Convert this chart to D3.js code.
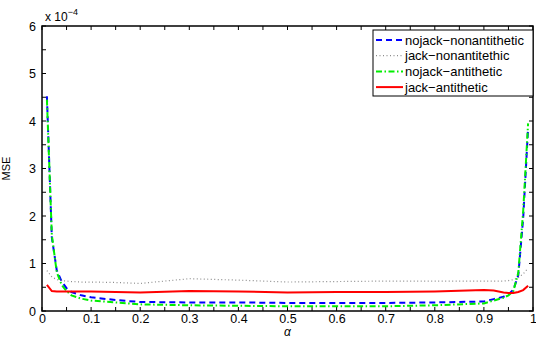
<!DOCTYPE html>
<html>
<head>
<meta charset="utf-8">
<script src="https://cdn.jsdelivr.net/npm/d3@7"></script>
<style>
  body { margin: 0; background: #fff; }
  svg { display: block; font-family: "Liberation Sans", Arial, sans-serif; }
  .tick text { font-size: 12.5px; fill: #000; }
</style>
</head>
<body>
<svg></svg>
<script>
// Data (MSE in units of 1e-4)
const alpha = [0.01, 0.02, 0.03, 0.04, 0.05, 0.06, 0.08, 0.1, 0.15, 0.2, 0.3, 0.4, 0.5,
  0.6, 0.7, 0.8, 0.9, 0.92, 0.94, 0.95, 0.96, 0.97, 0.98, 0.99];

const nojackNonanti = [4.52, 1.55, 0.86, 0.62, 0.48, 0.4, 0.33, 0.29, 0.23, 0.19, 0.18, 0.18, 0.17,
  0.17, 0.17, 0.18, 0.2, 0.25, 0.3, 0.35, 0.45, 0.75, 1.95, 3.85];
const jackNonanti = [0.85, 0.72, 0.66, 0.64, 0.63, 0.62, 0.61, 0.61, 0.6, 0.58, 0.68, 0.65, 0.61,
  0.62, 0.63, 0.63, 0.63, 0.63, 0.63, 0.64, 0.66, 0.7, 0.78, 0.9];
const nojackAnti = [4.45, 1.6, 0.82, 0.55, 0.42, 0.33, 0.26, 0.22, 0.18, 0.14, 0.12, 0.11, 0.1,
  0.1, 0.1, 0.12, 0.16, 0.22, 0.28, 0.33, 0.42, 0.8, 2.1, 3.95];
const jackAnti = [0.55, 0.42, 0.41, 0.41, 0.41, 0.41, 0.41, 0.41, 0.4, 0.39, 0.42, 0.41, 0.39,
  0.4, 0.4, 0.41, 0.44, 0.43, 0.39, 0.38, 0.38, 0.4, 0.44, 0.53];

const seriesNames = ["nojack\u2212nonantithetic", "jack\u2212nonantitethic", "nojack\u2212antithetic", "jack\u2212antithetic"];
const xTickLabels = ["0", "0.1", "0.2", "0.3", "0.4", "0.5", "0.6", "0.7", "0.8", "0.9", "1"];
const yTickLabels = ["0", "1", "2", "3", "4", "5", "6"];

const W = 536, H = 338;
const m = { left: 42, right: 3, top: 26, bottom: 27 };
const iw = W - m.left - m.right, ih = H - m.top - m.bottom;

const svg = d3.select("svg").attr("width", W).attr("height", H);
const g = svg.append("g").attr("transform", `translate(${m.left},${m.top})`);

const x = d3.scaleLinear().domain([0, 1]).range([0, iw]);
const y = d3.scaleLinear().domain([0, 6]).range([ih, 0]);

const styles = [
  { color: "#0000ff", dash: "6,4", width: 2 },
  { color: "#8c8c8c", dash: "1,2.5", width: 1.2 },
  { color: "#00ee00", dash: "6,2.5,1.5,2.5", width: 2 },
  { color: "#ff0000", dash: null, width: 2 }
];
const allSeries = [nojackNonanti, jackNonanti, nojackAnti, jackAnti];

// minor (unlabelled) ticks
const xMinor = d3.range(0, 1.0001, 0.05);
const yMinor = d3.range(0, 6.0001, 0.5);
const tl = 4;
xMinor.forEach(v => {
  g.append("line").attr("x1", x(v)).attr("x2", x(v)).attr("y1", ih).attr("y2", ih - tl).attr("stroke", "#000");
  g.append("line").attr("x1", x(v)).attr("x2", x(v)).attr("y1", 0).attr("y2", tl).attr("stroke", "#000");
});
yMinor.forEach(v => {
  g.append("line").attr("x1", 0).attr("x2", tl).attr("y1", y(v)).attr("y2", y(v)).attr("stroke", "#000");
  g.append("line").attr("x1", iw).attr("x2", iw - tl).attr("y1", y(v)).attr("y2", y(v)).attr("stroke", "#000");
});

// lines
const line = d3.line().x((d, i) => x(alpha[i])).y(d => y(d));
allSeries.forEach((s, k) => {
  g.append("path")
    .datum(s)
    .attr("fill", "none")
    .attr("stroke", styles[k].color)
    .attr("stroke-width", styles[k].width)
    .attr("stroke-dasharray", styles[k].dash)
    .attr("d", line);
});

// axes
const xAxis = g.append("g").attr("transform", `translate(0,${ih})`)
  .call(d3.axisBottom(x).tickValues(d3.range(0, 11).map(i => i / 10))
    .tickFormat((d, i) => xTickLabels[i]).tickSize(0).tickPadding(3));
const yAxis = g.append("g")
  .call(d3.axisLeft(y).tickValues(d3.range(0, 7))
    .tickFormat((d, i) => yTickLabels[i]).tickSize(0).tickPadding(6));
xAxis.select(".domain").remove();
yAxis.select(".domain").remove();
xAxis.selectAll("text").attr("dy", "0.72em");

g.append("rect").attr("width", iw).attr("height", ih)
  .attr("fill", "none").attr("stroke", "#000").attr("stroke-width", 1.5);

// exponent label
const ex = svg.append("text").attr("x", m.left + 3).attr("y", 21).attr("font-size", 12);
ex.append("tspan").text("x 10");
ex.append("tspan").attr("dy", -6).attr("font-size", 9).text("\u22124");

// axis titles
svg.append("text").attr("x", m.left + iw / 2).attr("y", 336)
  .attr("text-anchor", "middle").attr("font-size", 12).attr("font-style", "italic").text("\u03b1");
svg.append("text").attr("transform", `translate(10,${m.top + ih / 2}) rotate(-90)`)
  .attr("text-anchor", "middle").attr("font-size", 11).text("MSE");

// legend
const lg = svg.append("g").attr("transform", "translate(373,30)");
lg.append("rect").attr("width", 160).attr("height", 66)
  .attr("fill", "#fff").attr("stroke", "#000").attr("stroke-width", 1);
seriesNames.forEach((name, k) => {
  const yy = 10 + k * 15.7;
  lg.append("line").attr("x1", 3).attr("x2", 30).attr("y1", yy).attr("y2", yy)
    .attr("stroke", styles[k].color).attr("stroke-width", styles[k].width)
    .attr("stroke-dasharray", styles[k].dash);
  lg.append("text").attr("x", 32).attr("y", yy + 4.5).attr("font-size", 13).text(name);
});
</script>
</body>
</html>
